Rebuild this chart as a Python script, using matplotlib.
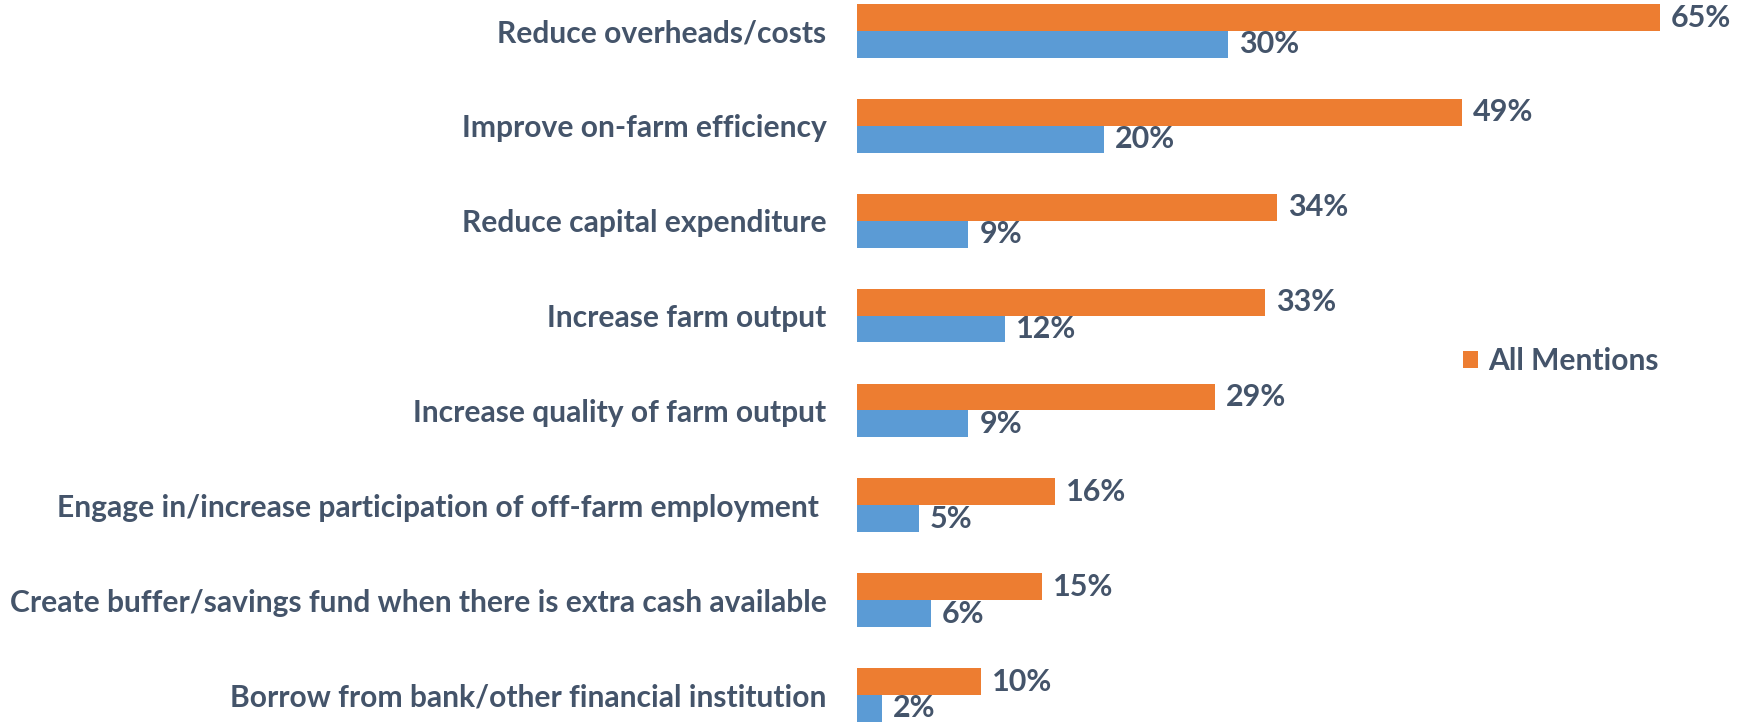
import matplotlib.pyplot as plt
import numpy as np

plt.rcParams['font.family'] = ['Lato', 'DejaVu Sans']
plt.rcParams['font.weight'] = 'bold'

# data
categories = ['Reduce overheads/costs',
              'Improve on-farm efficiency',
              'Reduce capital expenditure',
              'Increase farm output',
              'Increase quality of farm output',
              'Engage in/increase participation of off-farm employment ',
              'Create buffer/savings fund when there is extra cash available',
              'Borrow from bank/other financial institution']
all_mentions = [65, 49, 34, 33, 29, 16, 15, 10]
first_mention = [30, 20, 9, 12, 9, 5, 6, 2]

orange = '#ED7D31'
blue = '#5B9BD5'
txt = '#44546A'

fig = plt.figure(figsize=(17.52, 7.23), dpi=100)
ax = fig.add_axes([857 / 1752, 0, (1752 - 857) / 1752, 1])

y = np.arange(len(categories))
h = 0.283
b1 = ax.barh(y - h / 2, all_mentions, height=h, color=orange, label='All Mentions')
b2 = ax.barh(y + h / 2, first_mention, height=h, color=blue)

for bars in (b1, b2):
    ax.bar_label(bars, labels=[f'{v}%' for v in bars.datavalues], padding=8,
                 fontsize=22, fontweight='bold', color=txt)

ax.set_xlim(0, 895 / 12.35)
ax.set_ylim(7 + 28 / 94.9, -31 / 94.9)
ax.set_yticks(y)
ax.set_yticklabels(categories, fontsize=21.6, fontweight='bold', color=txt)
ax.tick_params(axis='y', length=0, pad=22)
ax.set_xticks([])
for s in ax.spines.values():
    s.set_visible(False)

ax.legend(handles=[b1], loc='center left', bbox_to_anchor=(1463 / 1752, 1 - 361 / 723),
          bbox_transform=fig.transFigure, frameon=False,
          handlelength=0.5, handleheight=0.5, handletextpad=0.35, borderpad=0,
          borderaxespad=0, labelcolor=txt, prop={'weight': 'bold', 'size': 21.6})

fig.savefig('out.png', dpi=100)
